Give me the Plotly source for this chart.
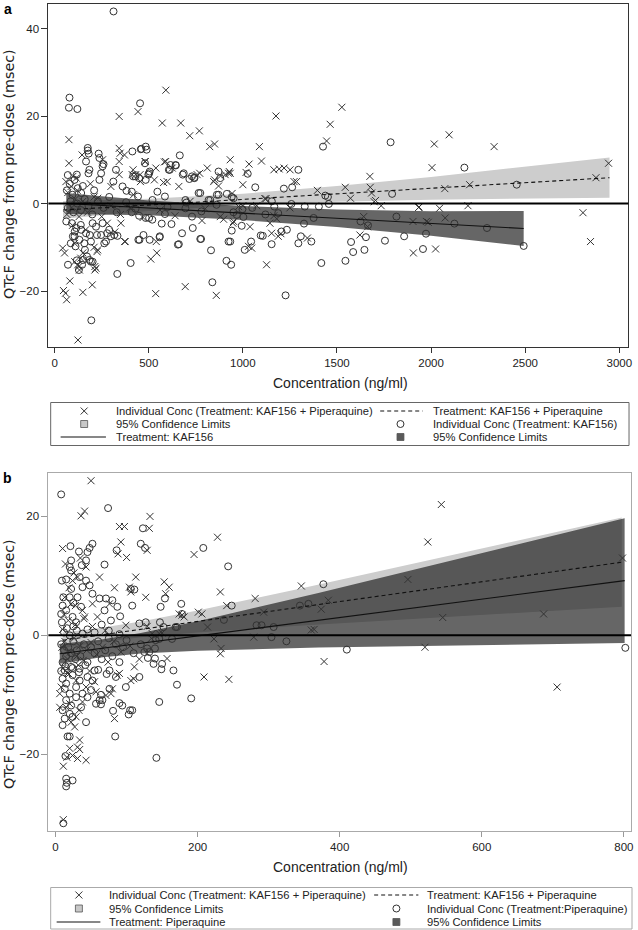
import plotly.graph_objects as go

W, H = 638, 930

# ---------------- Panel a : KAF156 ----------------
a_combo_pts = [  # Individual Conc (Treatment: KAF156 + Piperaquine)  (conc ng/ml, dQTcF msec)
    (443, 21.0), (343, 19.9), (591, 25.9), (572, 18.4), (670, 18.4), (718, 15.5), (769, 16.6), (824, 13.0),
    (850, 13.6), (1176, 20.0), (1088, 13.0), (1099, 9.7), (76, 14.6), (76, 9.2), (343, 12.6), (348, 11.5),
    (146, 11.1), (371, 11.1), (583, 9.5), (482, 9.6), (625, 8.1), (538, 8.1), (579, 4.8), (412, 6.6),
    (456, 5.0), (530, 5.4), (924, 6.9), (882, 6.3), (1033, 9.0), (1000, 4.3), (771, 6.9), (811, 8.1),
    (845, 5.0), (871, 4.0), (943, 2.3), (1117, 1.1), (1272, 5.0), (1251, 7.7), (1193, 7.9), (1219, 8.1),
    (1526, 22.0), (1464, 18.1), (1445, 14.3), (933, 10.0), (933, 6.9), (1017, 7.1), (1165, 7.7), (1285, 5.0),
    (1396, 3.0), (1544, 3.7), (1572, 1.2), (1675, 6.2), (1677, 3.7), (1684, 2.4), (1698, 0.4), (1735, -0.5),
    (1123, 1.1), (1074, -0.5), (977, -0.7), (951, -4.1), (1038, -5.3), (1030, -9.8), (1047, -10.2), (1126, -14.0),
    (1144, -4.5), (1153, -6.8), (1165, -2.8), (1188, -7.5), (1202, -6.9), (1343, -7.9), (1622, -7.2), (1642, -3.0),
    (1663, -5.3), (1904, -4.1), (1906, -11.3), (1934, -0.9), (1975, -4.1), (2017, 13.6), (2096, 15.7), (2335, 13.0),
    (2005, 8.2), (2943, 9.2), (2876, 5.9), (2205, 4.3), (2073, 3.4), (1705, 0.7), (1936, -0.8), (2045, -1.1),
    (2196, -0.5), (2807, -2.1), (1985, -4.3), (2075, -3.3), (2847, -8.7), (2024, -10.4), (859, -21.0), (694, -19.0),
    (537, -20.6), (543, -11.3), (511, -12.7), (372, -8.7), (225, -11.0), (210, -10.0), (214, -15.2), (214, -14.4),
    (124, -31.2), (200, -18.6), (150, -20.3), (81, -17.7), (47, -19.9), (64, -22.0), (58, -20.5), (43, -10.2),
    (53, -11.3), (150, -11.3), (139, -12.5), (129, -14.4), (107, -13.3), (106, -9.1), (123, -14.0), (132, -15.2),
    (220, -14.8), (229, -10.6), (352, -4.5), (375, -8.7), (540, -8.7), (783, -3.9), (898, -3.6), (947, -4.5),
    (97, 6.2), (88, 3.9), (115, 5.8), (255, 10.0), (343, 9.6), (417, 7.7), (431, 6.6), (454, 6.6),
    (480, 9.6), (590, 9.6), (598, 5.0), (660, 3.9), (757, 6.6), (850, 5.4), (906, 6.6), (928, 7.3),
    (343, 6.6), (299, 3.9), (229, 1.2), (419, 2.0), (65, -2.5), (90, -1.0), (110, 1.0), (130, -3.0),
    (150, 0.5), (175, -2.0), (210, 1.5), (250, -3.0), (300, -0.5), (350, -2.5), (400, -1.0), (470, -3.2),
    (560, -1.5), (640, -2.8), (720, 0.5), (800, -1.2), (880, -3.0), (1000, -0.5), (1180, -3.5), (1250, -1.0),
    (60, 5.0), (70, 2.5), (95, -5.0), (120, 3.0), (165, -6.0), (190, 4.5), (280, -4.5), (320, -6.5),
]
a_kaf_pts = [  # Individual Conc (Treatment: KAF156)
    (313, 43.9), (79, 24.2), (76, 21.9), (121, 21.6), (454, 22.9), (176, 12.7), (181, 11.4), (234, 11.4),
    (238, 10.4), (413, 11.9), (461, 12.5), (484, 13.0), (665, 11.0), (612, 7.7), (644, 8.7), (505, 7.3),
    (498, 6.6), (429, 6.2), (871, 7.3), (1026, 6.8), (1066, 3.7), (686, 6.9), (716, 5.6), (741, 5.9),
    (765, 2.4), (818, 0.8), (862, 2.0), (915, 2.2), (941, 1.5), (1154, 0.5), (1218, 3.4), (1262, 3.7),
    (1295, 7.7), (1426, 13.0), (1785, 14.0), (1438, 1.8), (1452, 1.5), (1793, 2.2), (1258, -0.1), (998, -1.3),
    (1003, -3.1), (994, -5.1), (951, 1.2), (941, -6.2), (933, -8.7), (938, -14.0), (1044, -8.7), (1095, -7.3),
    (1153, -9.3), (1167, -0.7), (1188, -2.2), (1205, -6.4), (1234, -6.0), (1295, -9.1), (1308, -7.5), (1325, -4.6),
    (1364, -8.7), (1376, -3.3), (1417, -13.6), (1227, -21.0), (1457, -0.1), (1545, -13.1), (1586, -11.1), (1575, -8.8),
    (1646, -10.6), (1625, -4.1), (1755, -8.5), (1816, -3.0), (1857, -7.5), (1957, -10.4), (1973, -6.9), (2177, 8.2),
    (2455, 4.3), (2124, -4.6), (1665, -5.0), (2297, -5.6), (1329, -0.7), (1404, -0.7), (2492, -9.7), (1654, -7.7),
    (1106, -7.4), (1010, -10.6), (913, -13.1), (924, -8.7), (831, -10.7), (778, -8.1), (838, -18.0), (655, -9.4),
    (559, -7.5), (505, -8.3), (451, -8.3), (472, -7.2), (404, -13.6), (333, -16.1), (264, -9.1), (225, -7.2),
    (279, -6.8), (193, -13.3), (172, -12.1), (161, -10.6), (195, -26.7), (71, -14.0), (118, -13.0), (129, -15.2),
    (146, -14.0), (86, -9.1), (97, -7.5), (107, -6.4), (92, -4.5), (193, -8.7), (187, -7.2), (139, -4.9),
    (62, -4.1), (115, -5.6), (141, -6.0), (106, -7.5), (132, -8.3), (111, -9.8), (158, -9.1), (167, -6.8),
    (202, -4.5), (220, -5.3), (255, -4.5), (247, -7.2), (273, -8.7), (290, -6.0), (299, -7.5), (317, -7.2),
    (334, -7.4), (202, -13.3), (185, -12.9), (150, -12.9), (445, -8.3), (558, -7.7), (569, -4.6), (621, -4.7),
    (660, -9.3), (677, -6.8), (734, -5.6), (774, -8.1), (968, -2.6), (730, -3.0), (695, -1.1), (586, -2.4),
    (519, -3.7), (502, -3.3), (484, -3.3), (449, -2.8), (410, -2.0), (176, 12.1), (260, 9.0), (255, 8.5),
    (185, 7.7), (180, 6.9), (167, 9.6), (118, 6.6), (106, 5.4), (123, 3.5), (141, 2.4), (238, 5.4),
    (247, 6.9), (326, 7.7), (312, 5.0), (361, 3.9), (382, 2.9), (417, 6.2), (449, 5.8), (484, 5.4),
    (443, 1.6), (410, 2.7), (458, 12.4), (489, 12.3), (480, 9.2), (502, 6.9), (546, 2.7), (586, 1.6),
    (607, 7.7), (616, 8.8), (643, 8.8), (681, 6.6), (730, 6.2), (743, 5.8), (774, 2.4), (880, 5.8),
    (871, 2.0), (695, 0.8), (827, 0.8), (70, -1.0), (85, 0.5), (100, -2.0), (120, 0.0), (140, -1.5),
    (160, 1.0), (180, -0.5), (200, -2.5), (230, 0.5), (260, -1.0), (290, 1.5), (330, -2.0), (380, 0.3),
    (430, -1.2), (520, 0.8), (600, -0.8), (700, 0.2), (780, -1.8), (860, -0.3), (950, -2.0), (1050, -1.0),
    (1120, -2.5), (65, 3.0), (80, 4.5), (95, 2.0), (70, 6.5), (150, 4.0), (210, 3.0),
]
a_combo_fit_conc = [45, 500, 1000, 1500, 2000, 2500, 2948]
a_combo_fit = [-1.5, -0.34, 0.93, 2.21, 3.48, 4.76, 5.9]
a_combo_lcl = [-3.5, -1.74, -0.37, 0.41, 0.88, 1.16, 1.3]
a_combo_ucl = [0.5, 1.06, 2.23, 4.01, 6.08, 8.36, 10.5]
a_kaf_fit_conc = [62, 500, 1000, 1500, 2000, 2492]
a_kaf_fit = [0.0, -1.03, -2.2, -3.38, -4.55, -5.7]
a_kaf_lcl = [-2.4, -2.7, -3.8, -5.4, -7.35, -9.7]
a_kaf_ucl = [2.4, 0.7, -0.6, -1.4, -1.75, -1.7]

# ---------------- Panel b : Piperaquine ----------------
b_combo_pts = [
    (50, 26.0), (36, 20.1), (41, 20.9), (90, 18.3), (97, 18.3), (133, 20.0), (132, 18.0), (195, 13.6),
    (92, 15.7), (129, 14.3), (88, 13.7), (100, 13.1), (10, 14.6), (113, 9.8), (153, 9.0), (160, 8.1),
    (155, 7.0), (62, 9.8), (83, 8.0), (104, 8.1), (106, 7.3), (127, 6.4), (43, 11.5), (31, 9.8),
    (24, 9.2), (13, 6.4), (22, 5.3), (38, 4.2), (41, 3.1), (52, 5.3), (59, 3.1), (76, 5.3),
    (99, 1.7), (129, 1.5), (174, 3.6), (181, 3.1), (201, 3.9), (150, 0.4), (232, 7.3), (241, 5.0),
    (228, 16.5), (206, 3.6), (214, 1.4), (223, -0.6), (233, -2.2), (232, -3.1), (209, -7.0), (244, -7.4),
    (178, 3.4), (157, -3.9), (136, 0.3), (146, 0.3), (90, -6.4), (106, -7.6), (111, -5.3), (80, -9.0),
    (57, -9.5), (83, -14.0), (71, -10.1), (78, -9.8), (87, -6.7), (55, -7.8), (110, -7.3), (34, -17.6),
    (34, -19.2), (20, -19.0), (11, -22.0), (16, -20.5), (31, -20.7), (43, -21.0), (24, -20.2), (31, -18.8),
    (11, -31.0), (6, -9.8), (6, -12.1), (15, -12.1), (22, -14.6), (29, -13.7), (33, -12.6), (38, -11.2),
    (43, -8.7), (17, -6.4), (8, -8.7), (29, -7.6), (20, -11.5), (27, -15.4), (346, 8.3), (384, 5.9),
    (374, 4.4), (364, 1.0), (378, -4.4), (543, 22.0), (524, 15.7), (496, 9.4), (545, 3.0), (520, -2.0),
    (687, 3.6), (706, -8.7), (798, 13.0), (281, 6.2), (293, 3.9), (279, -0.3), (360, 0.9), (9, -2.0),
    (13, -1.0), (17, -4.0), (21, -2.8), (26, -0.5), (30, -3.5), (34, -1.8), (39, -4.2), (44, -2.5),
    (50, -1.2), (58, -3.2), (66, -2.0), (74, -4.5), (82, -1.0), (92, -2.8), (105, -1.8), (118, -4.0),
    (135, -0.5), (10, 1.0), (18, 2.5), (28, 1.8), (40, 2.8), (52, 1.5), (70, 0.8), (11, -5.5),
    (19, -6.5), (32, -5.0), (48, -6.0), (14, 12.0), (26, 10.5), (19, 8.0), (35, 13.0), (12, 3.5), (28, 5.0),
]
b_pip_pts = [
    (8, 23.7), (74, 21.4), (123, 18.0), (120, 15.4), (126, 14.7), (86, 14.3), (21, 15.0), (33, 14.1),
    (52, 15.4), (48, 14.7), (45, 14.0), (43, 12.6), (37, 11.8), (69, 11.9), (22, 12.6), (20, 11.5),
    (22, 10.9), (9, 9.2), (15, 9.4), (22, 7.8), (20, 6.4), (25, 5.5), (11, 6.4), (10, 5.0),
    (8, 3.6), (9, 2.2), (15, 4.2), (24, 3.1), (29, 2.2), (36, 4.8), (31, 6.4), (38, 8.1),
    (34, 9.8), (43, 9.2), (48, 8.4), (52, 7.0), (62, 6.2), (71, 6.2), (80, 5.9), (87, 4.8),
    (69, 4.2), (78, 2.5), (91, 3.2), (108, 5.0), (111, 7.7), (106, 7.8), (118, 2.0), (127, 2.2),
    (148, 4.8), (154, 6.2), (169, 1.4), (177, 5.3), (147, 2.2), (248, 5.0), (243, 11.6), (208, 14.7),
    (237, 2.6), (191, -10.6), (146, -11.2), (171, -8.3), (166, -5.9), (178, 3.6), (171, 1.4), (164, -0.6),
    (150, -4.8), (140, -3.9), (132, -2.8), (129, -2.2), (125, -2.8), (141, -0.8), (146, -0.6), (152, 1.4),
    (118, -7.0), (99, -8.7), (108, -12.6), (94, -11.8), (76, -5.9), (85, -7.0), (66, -10.9), (62, -10.9),
    (57, -11.5), (50, -9.2), (45, -10.4), (138, -4.8), (149, -5.7), (142, -20.6), (84, -17.0), (90, -11.4),
    (105, -12.6), (103, -13.3), (81, -12.7), (64, -11.6), (64, -10.0), (76, -9.0), (52, -7.6), (55, -5.9),
    (45, -7.0), (43, -14.6), (14, -20.3), (15, -24.1), (16, -24.8), (15, -25.4), (24, -24.4), (20, -17.0),
    (17, -17.0), (10, -15.1), (11, -31.6), (13, -5.9), (10, -7.3), (15, -8.1), (13, -9.0), (20, -9.8),
    (15, -10.9), (10, -12.6), (20, -13.2), (24, -13.7), (13, -14.0), (22, -11.8), (29, -10.4), (29, -8.7),
    (34, -7.6), (24, -6.7), (22, -5.3), (34, -5.6), (38, -9.8), (36, -12.1), (377, 8.6), (356, 5.3),
    (344, 5.0), (410, -2.4), (802, -2.1), (283, 1.7), (290, 1.7), (307, 1.4), (304, -0.3), (325, -1.0),
    (8, -1.5), (12, -2.5), (15, -3.5), (10, -4.5), (18, -2.0), (22, -3.0), (25, -1.0), (28, -4.0),
    (30, -2.5), (35, -3.5), (40, -1.5), (45, -4.5), (50, -2.0), (55, -3.0), (60, -1.0), (65, -4.0),
    (70, -2.5), (75, -0.5), (80, -3.5), (85, -1.5), (90, -4.5), (95, -2.0), (100, -0.8), (110, -3.0),
    (120, -1.5), (130, -3.8), (140, -2.2), (12, 0.5), (16, 1.2), (20, 0.0), (25, 1.5), (30, 0.8),
    (38, 0.3), (45, 1.0), (55, 0.5), (65, 1.8), (75, 0.8), (90, 0.2), (8, -6.0), (14, -5.2),
    (24, -5.5), (33, -6.2), (42, -5.0), (60, -5.8), (72, -6.5),
]
b_combo_fit_conc = [10, 60, 120, 200, 342, 550, 797]
b_combo_fit = [-0.83, 0.0, 1.0, 2.34, 4.7, 8.2, 12.3]
b_combo_lcl = [-2.13, -1.2, -0.34, 0.49, 1.62, 3.13, 4.8]
b_combo_ucl = [0.47, 1.2, 2.34, 4.19, 7.78, 13.27, 19.8]
b_pip_fit_conc = [6, 60, 120, 200, 370, 550, 801]
b_pip_fit = [-3.1, -2.27, -1.34, -0.1, 2.54, 5.33, 9.2]
b_pip_lcl = [-4.78, -3.77, -3.06, -2.57, -2.06, -1.7, -1.3]
b_pip_ucl = [-1.42, -0.77, 0.38, 2.37, 7.14, 12.36, 19.7]

LIGHT = "#cdcdcd"
DARK = "rgba(33,33,33,0.69)"
MK = "#333333"
TXT = "#222222"
TICKFONT = dict(family="Liberation Sans, Arial, sans-serif", size=11.5, color=TXT)

fig = go.Figure()


def band(xs, lo, hi, color, xa, ya):
    fig.add_trace(go.Scatter(x=list(xs) + list(xs)[::-1], y=list(hi) + list(lo)[::-1],
                             fill="toself", fillcolor=color, line=dict(width=0),
                             mode="lines", hoverinfo="skip", showlegend=False, xaxis=xa, yaxis=ya))


def scatter(pts, symbol, xa, ya):
    fig.add_trace(go.Scatter(x=[p[0] for p in pts], y=[p[1] for p in pts], mode="markers",
                             marker=dict(symbol=symbol, size=7, color=MK,
                                         line=dict(color=MK, width=1)),
                             showlegend=False, xaxis=xa, yaxis=ya))


def fit(xs, ys, dash, xa, ya):
    fig.add_trace(go.Scatter(x=xs, y=ys, mode="lines", line=dict(color="#111", width=1.1, dash=dash),
                             showlegend=False, xaxis=xa, yaxis=ya))


# panel a
band(a_combo_fit_conc, a_combo_lcl, a_combo_ucl, LIGHT, "x", "y")
band(a_kaf_fit_conc, a_kaf_lcl, a_kaf_ucl, DARK, "x", "y")
scatter(a_combo_pts, "x-thin-open", "x", "y")
scatter(a_kaf_pts, "circle-open", "x", "y")
fit(a_combo_fit_conc, a_combo_fit, "4px,3px", "x", "y")
fit(a_kaf_fit_conc, a_kaf_fit, "solid", "x", "y")

# panel b
band(b_combo_fit_conc, b_combo_lcl, b_combo_ucl, LIGHT, "x2", "y2")
band(b_pip_fit_conc, b_pip_lcl, b_pip_ucl, DARK, "x2", "y2")
scatter(b_combo_pts, "x-thin-open", "x2", "y2")
scatter(b_pip_pts, "circle-open", "x2", "y2")
fit(b_combo_fit_conc, b_combo_fit, "4px,3px", "x2", "y2")
fit(b_pip_fit_conc, b_pip_fit, "solid", "x2", "y2")

# ---------- legends (drawn in a pixel-coordinate overlay) ----------
LEG_FONT = dict(family="Liberation Sans, Arial, sans-serif", size=11.2, color=TXT)


def legend(rows, xs, left_text_x, right_text_x, combo_label, single_x_label, single_line_label, box, border):
    r1, r2, r3 = rows
    xl, xr, l0, l1, d0, d1 = xs
    fig.add_shape(type="rect", xref="x3", yref="y3", x0=box[0], x1=box[1], y0=box[2], y1=box[3],
                  line=dict(color=border, width=1), fillcolor="rgba(0,0,0,0)")
    fig.add_trace(go.Scatter(x=[xl], y=[r1], mode="markers", xaxis="x3", yaxis="y3", showlegend=False,
                             marker=dict(symbol="x-thin-open", size=7, color=MK, line=dict(color=MK, width=1))))
    fig.add_trace(go.Scatter(x=[xr], y=[r2], mode="markers", xaxis="x3", yaxis="y3", showlegend=False,
                             marker=dict(symbol="circle-open", size=7, color=MK, line=dict(color=MK, width=1))))
    fig.add_trace(go.Scatter(x=[d0, d1], y=[r1, r1], mode="lines", xaxis="x3", yaxis="y3", showlegend=False,
                             line=dict(color="#111", width=1.1, dash="4px,3px")))
    fig.add_trace(go.Scatter(x=[l0, l1], y=[r3, r3], mode="lines", xaxis="x3", yaxis="y3", showlegend=False,
                             line=dict(color="#111", width=1.1)))
    for cx, cy, col in [(xl, r2, "#c8c8c8"), (xr, r3, "#5a5a5a")]:
        fig.add_shape(type="rect", xref="x3", yref="y3", x0=cx - 3.5, x1=cx + 3.5, y0=cy - 3.5, y1=cy + 3.5,
                      line=dict(color="#555", width=0.8), fillcolor=col)
    texts = [(left_text_x, r1, combo_label), (right_text_x, r1, "Treatment: KAF156 + Piperaquine"),
             (left_text_x, r2, "95% Confidence Limits"), (right_text_x, r2, single_x_label),
             (left_text_x, r3, single_line_label), (right_text_x, r3, "95% Confidence Limits")]
    for tx, ty, t in texts:
        fig.add_annotation(x=tx, y=ty, xref="x3", yref="y3", text=t, showarrow=False,
                           xanchor="left", yanchor="middle", font=LEG_FONT)


legend((411, 424, 437), (84.7, 403, 61, 106.6, 382.6, 425.3), 114.8, 433.5,
       "Individual Conc (Treatment: KAF156 + Piperaquine)", "Individual Conc (Treatment: KAF156)",
       "Treatment: KAF156", (51, 633, 402.5, 445.5), "#666")
legend((895, 908.5, 922), (79.4, 398.9, 57, 101, 376.5, 421), 107.9, 427.4,
       "Individual Conc (Treatment: KAF156 + Piperaquine)", "Individual Conc (Treatment:Piperaquine)",
       "Treatment: Piperaquine", (51, 636, 887.5, 929), "#aaa")

# axis titles and panel labels
XT_FONT = dict(family="Liberation Sans, Arial, sans-serif", size=14, color=TXT)
YT_FONT = dict(family="DejaVu Sans, sans-serif", size=14.3, color=TXT)
for cy in (383, 867):
    fig.add_annotation(x=343, y=cy, xref="x3", yref="y3", text="Concentration (ng/ml)", showarrow=False,
                       xanchor="center", yanchor="middle", font=XT_FONT)
for cy in (174, 664):
    fig.add_annotation(x=9, y=cy, xref="x3", yref="y3", text="QTcF change from pre-dose (msec)",
                       showarrow=False, textangle=-90, xanchor="center", yanchor="middle", font=YT_FONT)
for lbl, cy in (("a", 9), ("b", 478)):
    fig.add_annotation(x=8, y=cy, xref="x3", yref="y3", text="<b>%s</b>" % lbl, showarrow=False,
                       xanchor="center", yanchor="middle",
                       font=dict(family="Liberation Sans, Arial, sans-serif", size=14, color="#000"))

# zero reference lines
for xr_, yr_ in (("x", "y"), ("x2", "y2")):
    fig.add_shape(type="line", xref=xr_ + " domain", yref=yr_, x0=0, x1=1, y0=0, y1=0,
                  line=dict(color="#000", width=2), layer="above")


def px_x(p):
    return p / W


def px_y(p):
    return 1 - p / H


common_x = dict(showgrid=False, zeroline=False, showline=True, mirror=True, ticks="outside",
                ticklen=5, tickwidth=1, tickfont=TICKFONT, fixedrange=True)
common_y = dict(showgrid=False, zeroline=False, showline=True, mirror=True, ticks="outside",
                ticklen=6, tickwidth=1, tickfont=TICKFONT, fixedrange=True)

fig.update_layout(
    width=W, height=H, margin=dict(l=0, r=0, t=0, b=0),
    paper_bgcolor="white", plot_bgcolor="rgba(0,0,0,0)", showlegend=False,
    xaxis=dict(domain=[px_x(48.7), px_x(632.3)], range=[-33, 3048], anchor="y",
               tickvals=[0, 500, 1000, 1500, 2000, 2500, 3000], linecolor="#333", tickcolor="#333", **common_x),
    yaxis=dict(domain=[px_y(347), px_y(4)], range=[-32.8, 45.6], anchor="x",
               tickvals=[-20, 0, 20, 40], linecolor="#333", tickcolor="#333", **common_y),
    xaxis2=dict(domain=[px_x(48.7), px_x(635)], range=[-10, 810], anchor="y2",
                tickvals=[0, 200, 400, 600, 800], linecolor="#aaa", tickcolor="#999", **common_x),
    yaxis2=dict(domain=[px_y(831), px_y(473)], range=[-32.9, 27.3], anchor="x2",
                tickvals=[-20, 0, 20], linecolor="#aaa", tickcolor="#999", **common_y),
    xaxis3=dict(domain=[0, 1], range=[0, W], visible=False, fixedrange=True, anchor="y3"),
    yaxis3=dict(domain=[0, 1], range=[H, 0], visible=False, fixedrange=True, anchor="x3"),
)

fig.write_html("out.html", config={"displayModeBar": False},
               post_script="document.body.style.margin='0';document.body.style.overflow='hidden';")
